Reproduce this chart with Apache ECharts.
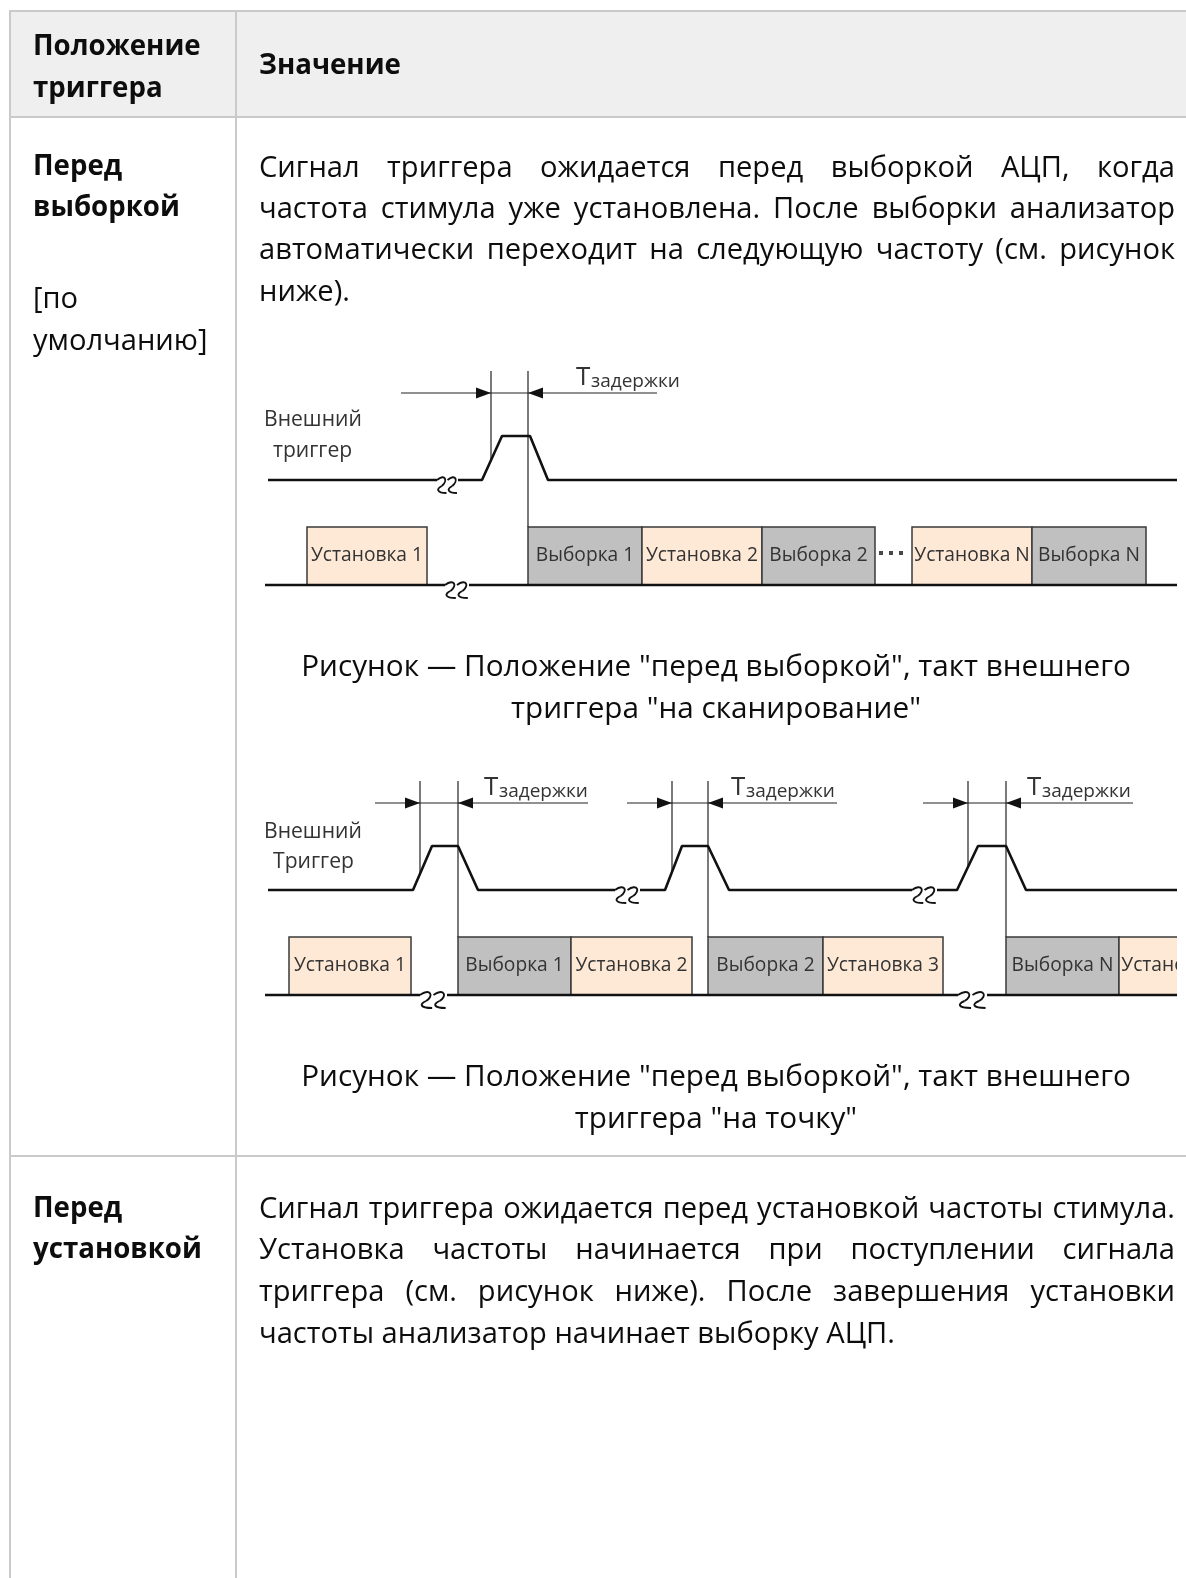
<!DOCTYPE html>
<html><head><meta charset="utf-8">
<script src="https://cdn.jsdelivr.net/npm/echarts@6/dist/echarts.min.js"></script>
<style>html,body{margin:0;padding:0;background:#fff}#c{width:1186px;height:1578px}</style>
</head><body><div id="c"></div>
<script>
// ================= DATA =================
const headerLeft = ['Положение', 'триггера'];
const headerRight = 'Значение';
const row1Label = ['Перед', 'выборкой'];
const row1Note = ['[по', 'умолчанию]'];
const row1Text = [
  'Сигнал триггера ожидается перед выборкой АЦП, когда',
  'частота стимула уже установлена. После выборки анализатор',
  'автоматически переходит на следующую частоту (см. рисунок',
  'ниже).'
];
const row1Justify = [true, true, true, false];
const caption1 = ['Рисунок — Положение "перед выборкой", такт внешнего', 'триггера "на сканирование"'];
const caption2 = ['Рисунок — Положение "перед выборкой", такт внешнего', 'триггера "на точку"'];
const row2Label = ['Перед', 'установкой'];
const row2Text = [
  'Сигнал триггера ожидается перед установкой частоты стимула.',
  'Установка частоты начинается при поступлении сигнала',
  'триггера (см. рисунок ниже). После завершения установки',
  'частоты анализатор начинает выборку АЦП.'
];
const row2Justify = [true, true, true, false];
const signalLabels1 = ['Внешний', 'триггер'];
const signalLabels2 = ['Внешний', 'Триггер'];
const delayLabel = ['Т', 'задержки'];

// signal levels (diagram units)
const levels = { base: 0, boxTop: 58, low: 105, high: 149, dim: 192, top: 214 };

// Diagram 1: trigger "на сканирование"
const d1TrigRange = [3, 912];
const d1Pulses = [[217, 237, 265, 283]];            // rise start, rise end, fall start, fall end
const d1TrigBreaks = [[172, 193]];
const d1BaseRange = [0, 912];
const d1BaseBreaks = [[180, 204]];
const d1BoxNames = ['Установка 1', 'Выборка 1', 'Установка 2', 'Выборка 2', 'Установка N', 'Выборка N'];
const d1BoxSpans = [[42, 162], [263, 377], [377, 497], [497, 610], [647, 767], [767, 881]];
const d1BoxKinds = [0, 1, 0, 1, 0, 1];
const d1Markers = [[226, 125], [263, 58]];           // time, lower level
const d1Dims = [[136, 226, 263, 392, 312]];          // left end, tip 1, tip 2, right end, label
const d1Dots = [616, 626, 636];

// Diagram 2: trigger "на точку"
const d2TrigRange = [3, 912];
const d2Pulses = [[148, 167, 193, 213], [400, 417, 443, 464], [692, 713, 741, 761]];
const d2TrigBreaks = [[350, 375], [647, 672]];
const d2BaseRange = [0, 912];
const d2BaseBreaks = [[155, 182], [693, 722]];
const d2BoxNames = ['Установка 1', 'Выборка 1', 'Установка 2', 'Выборка 2', 'Установка 3', 'Выборка N', 'Установка N'];
const d2BoxSpans = [[24, 146], [193, 306], [306, 427], [443, 558], [558, 678], [741, 854], [854, 974]];
const d2BoxKinds = [0, 1, 0, 1, 0, 1, 0];
const d2Markers = [[155, 121], [193, 58], [407, 123], [443, 58], [703, 128], [741, 58]];
const d2Dims = [[110, 155, 193, 323, 220], [362, 407, 443, 572, 467], [658, 703, 741, 868, 763]];

// ================= LAYOUT / STYLE =================
const FAMILY = '"Open Sans", "Noto Sans", sans-serif';
const mctx = document.createElement('canvas').getContext('2d');
function measure(text, font) { mctx.font = font; return mctx.measureText(text).width; }
const bodySize = +(100 * 636 / measure('частоты анализатор начинает выборку АЦП.', '100px ' + FAMILY)).toFixed(2);
const bodyFont = bodySize + 'px ' + FAMILY;
const boldFont = 'bold ' + (bodySize * 0.95).toFixed(2) + 'px ' + FAMILY;
const capFont = (bodySize * 1.02).toFixed(2) + 'px ' + FAMILY;
const diagSize = +(100 * 112 / measure('Установка 1', '100px ' + FAMILY)).toFixed(2);
const diagFont = diagSize + 'px ' + FAMILY;
const labelFont = (diagSize * 1.1).toFixed(2) + 'px ' + FAMILY;
const TEXT = '#0d0d0d';
const DTEXT = '#333';
const BORDER = '#cacaca';
const DY = 2.5;

const graphics = [];
function txt(text, x, y, font, opts) {
  opts = opts || {};
  graphics.push({
    type: 'text', silent: true, z: 10,
    style: {
      text: text, x: x, y: y + DY, font: font, fill: opts.fill || TEXT,
      align: opts.align || 'left', verticalAlign: 'middle',
      textAlign: opts.align || 'left', textVerticalAlign: 'middle'
    }
  });
}
function para(lines, just, x, y0, dy, width) {
  lines.forEach((ln, i) => {
    const y = y0 + dy * i;
    if (!just[i]) { txt(ln, x, y, bodyFont); return; }
    const words = ln.split(' ');
    const ws = words.map(w => measure(w, bodyFont));
    const gap = (width - ws.reduce((a, b) => a + b, 0)) / (words.length - 1);
    let cx = x;
    words.forEach((w, k) => { txt(w, cx, y, bodyFont); cx += ws[k] + gap; });
  });
}

// table frame
graphics.push({ type: 'rect', silent: true, z: 1, shape: { x: 10, y: 11, width: 1176, height: 106 }, style: { fill: '#efefef' } });
[[9, 11, 1186, 11], [9, 117, 1186, 117], [9, 1156, 1186, 1156], [10, 10, 10, 1578], [236, 10, 236, 1578]].forEach(l => {
  graphics.push({ type: 'line', silent: true, z: 2, shape: { x1: l[0], y1: l[1], x2: l[2], y2: l[3] }, style: { stroke: BORDER, lineWidth: 2 } });
});

// header
txt(headerLeft[0], 33, 45, boldFont);
txt(headerLeft[1], 33, 87, boldFont);
txt(headerRight, 259, 64, boldFont);
// row 1
txt(row1Label[0], 33, 165, boldFont);
txt(row1Label[1], 33, 206, boldFont);
txt(row1Note[0], 33, 297, bodyFont);
txt(row1Note[1], 33, 339, bodyFont);
para(row1Text, row1Justify, 259, 166, 41.3, 916);
txt(caption1[0], 716, 665, capFont, { align: 'center' });
txt(caption1[1], 716, 707, capFont, { align: 'center' });
txt(caption2[0], 716, 1075, capFont, { align: 'center' });
txt(caption2[1], 716, 1117, capFont, { align: 'center' });
// row 2
txt(row2Label[0], 33, 1207, boldFont);
txt(row2Label[1], 33, 1248, boldFont);
para(row2Text, row2Justify, 259, 1207, 41.7, 916);
// signal names
txt(signalLabels1[0], 264, 417, labelFont, { fill: DTEXT });
txt(signalLabels1[1], 273, 448, labelFont, { fill: DTEXT });
txt(signalLabels2[0], 264, 829, labelFont, { fill: DTEXT });
txt(signalLabels2[1], 273, 859, labelFont, { fill: DTEXT });

// ================= SERIES BUILDERS =================
function buildSignal(range, pulses, breaks, low, high) {
  const ev = pulses.map(p => ({ t: p[0], p: p })).concat(breaks.map(b => ({ t: b[0], b: b }))).sort((a, b) => a.t - b.t);
  const segs = [];
  let cur = [[range[0], low]];
  ev.forEach(e => {
    if (e.p) { cur.push([e.p[0], low], [e.p[1], high], [e.p[2], high], [e.p[3], low]); }
    else { cur.push([e.b[0], low]); segs.push(cur); cur = [[e.b[1], low]]; }
  });
  cur.push([range[1], low]);
  segs.push(cur);
  return segs;
}
function lineSeries(gi, data, z) {
  return { type: 'line', xAxisIndex: gi, yAxisIndex: gi, data: data, symbol: 'none', silent: true, z: z,
    clip: false, lineStyle: { color: '#111', width: 2.6 } };
}
function squiggleItem(params, api) {
  const a = api.coord([api.value(0), api.value(2)]);
  const b = api.coord([api.value(1), api.value(2)]);
  const s = (b[0] - a[0]) / 2;
  const y = a[1];
  const children = [];
  [a[0], a[0] + s].forEach(sx => {
    children.push({ type: 'bezierCurve', shape: { x1: sx, y1: y, cpx1: sx + s * 0.8, cpy1: y - 7, cpx2: sx + s * 1.05, cpy2: y + 1, x2: sx + s * 0.45, y2: y + 6 },
      style: { fill: null, stroke: '#111', lineWidth: 1.9 } });
    children.push({ type: 'bezierCurve', shape: { x1: sx + s * 0.45, y1: y + 6, cpx1: sx - 1, cpy1: y + 9, cpx2: sx, cpy2: y + 13, x2: sx + s * 0.9, y2: y + 13 },
      style: { fill: null, stroke: '#111', lineWidth: 1.9 } });
  });
  return { type: 'group', children: children };
}
function boxItem(names, kinds) {
  return function (params, api) {
    const i = params.dataIndex;
    const p0 = api.coord([api.value(0), levels.boxTop]);
    const p1 = api.coord([api.value(1), levels.base]);
    return {
      type: 'rect',
      shape: { x: p0[0], y: p0[1], width: p1[0] - p0[0], height: p1[1] - p0[1] },
      style: { fill: kinds[i] ? '#c0c0c0' : '#fde9d5', stroke: '#3a3a3a', lineWidth: 1.5 },
      textContent: { style: { text: names[i], font: diagFont, fill: DTEXT } },
      textConfig: { position: 'inside' }
    };
  };
}
function markerItem(params, api) {
  const a = api.coord([api.value(0), levels.top]);
  const b = api.coord([api.value(0), api.value(1)]);
  return { type: 'line', shape: { x1: a[0], y1: a[1], x2: b[0], y2: b[1] }, style: { stroke: '#222', lineWidth: 1.2 } };
}
function dimItem(params, api) {
  const y = api.coord([0, levels.dim])[1];
  const xs = [0, 1, 2, 3, 4].map(k => api.coord([api.value(k), levels.dim])[0]);
  return {
    type: 'group', children: [
      { type: 'line', shape: { x1: xs[0], y1: y, x2: xs[3], y2: y }, style: { stroke: '#222', lineWidth: 1.2 } },
      { type: 'polygon', shape: { points: [[xs[1], y], [xs[1] - 15, y - 5.5], [xs[1] - 15, y + 5.5]] }, style: { fill: '#111' } },
      { type: 'polygon', shape: { points: [[xs[2], y], [xs[2] + 15, y - 5.5], [xs[2] + 15, y + 5.5]] }, style: { fill: '#111' } },
      { type: 'text', style: { text: delayLabel[0], x: xs[4] - 1, y: y - 15, font: '26px ' + FAMILY, fill: DTEXT,
        align: 'left', verticalAlign: 'middle', textAlign: 'left', textVerticalAlign: 'middle' } },
      { type: 'text', style: { text: delayLabel[1], x: xs[4] + 14, y: y - 11, font: '19px ' + FAMILY, fill: DTEXT,
        align: 'left', verticalAlign: 'middle', textAlign: 'left', textVerticalAlign: 'middle' } }
    ]
  };
}
function diagram(gi, cfg) {
  const out = [];
  buildSignal(cfg.trig, cfg.pulses, cfg.trigBreaks, levels.low, levels.high).forEach(s => out.push(lineSeries(gi, s, 6)));
  buildSignal(cfg.base, [], cfg.baseBreaks, levels.base, levels.base).forEach(s => out.push(lineSeries(gi, s, 7)));
  out.push({ type: 'custom', xAxisIndex: gi, yAxisIndex: gi, silent: true, z: 6, clip: false,
    data: cfg.trigBreaks.map(b => [b[0], b[1], levels.low]).concat(cfg.baseBreaks.map(b => [b[0], b[1], levels.base])),
    renderItem: squiggleItem });
  out.push({ type: 'custom', xAxisIndex: gi, yAxisIndex: gi, silent: true, z: 3, clip: true,
    data: cfg.spans, renderItem: boxItem(cfg.names, cfg.kinds) });
  out.push({ type: 'custom', xAxisIndex: gi, yAxisIndex: gi, silent: true, z: 5, clip: false,
    data: cfg.markers, renderItem: markerItem });
  out.push({ type: 'custom', xAxisIndex: gi, yAxisIndex: gi, silent: true, z: 5, clip: false,
    data: cfg.dims, renderItem: dimItem });
  if (cfg.dots) {
    out.push({ type: 'scatter', xAxisIndex: gi, yAxisIndex: gi, silent: true, z: 5, symbol: 'rect', symbolSize: 4,
      itemStyle: { color: '#1a1a1a' }, data: cfg.dots.map(t => [t, 32]) });
  }
  return out;
}

const series = [].concat(
  diagram(0, { trig: d1TrigRange, pulses: d1Pulses, trigBreaks: d1TrigBreaks, base: d1BaseRange, baseBreaks: d1BaseBreaks,
    spans: d1BoxSpans, names: d1BoxNames, kinds: d1BoxKinds, markers: d1Markers, dims: d1Dims, dots: d1Dots }),
  diagram(1, { trig: d2TrigRange, pulses: d2Pulses, trigBreaks: d2TrigBreaks, base: d2BaseRange, baseBreaks: d2BaseBreaks,
    spans: d2BoxSpans, names: d2BoxNames, kinds: d2BoxKinds, markers: d2Markers, dims: d2Dims })
);

const axisX = gi => ({ gridIndex: gi, type: 'value', min: 0, max: 912, show: false });
const axisY = gi => ({ gridIndex: gi, type: 'value', min: 0, max: 230, show: false });

const chart = echarts.init(document.getElementById('c'), null, { renderer: 'canvas', width: 1186, height: 1578 });
chart.setOption({
  animation: false,
  backgroundColor: '#ffffff',
  grid: [
    { left: 265, top: 355, width: 912, height: 230 },
    { left: 265, top: 765, width: 912, height: 230 }
  ],
  xAxis: [axisX(0), axisX(1)],
  yAxis: [axisY(0), axisY(1)],
  graphic: { elements: graphics },
  series: series
});
</script>
</body></html>
